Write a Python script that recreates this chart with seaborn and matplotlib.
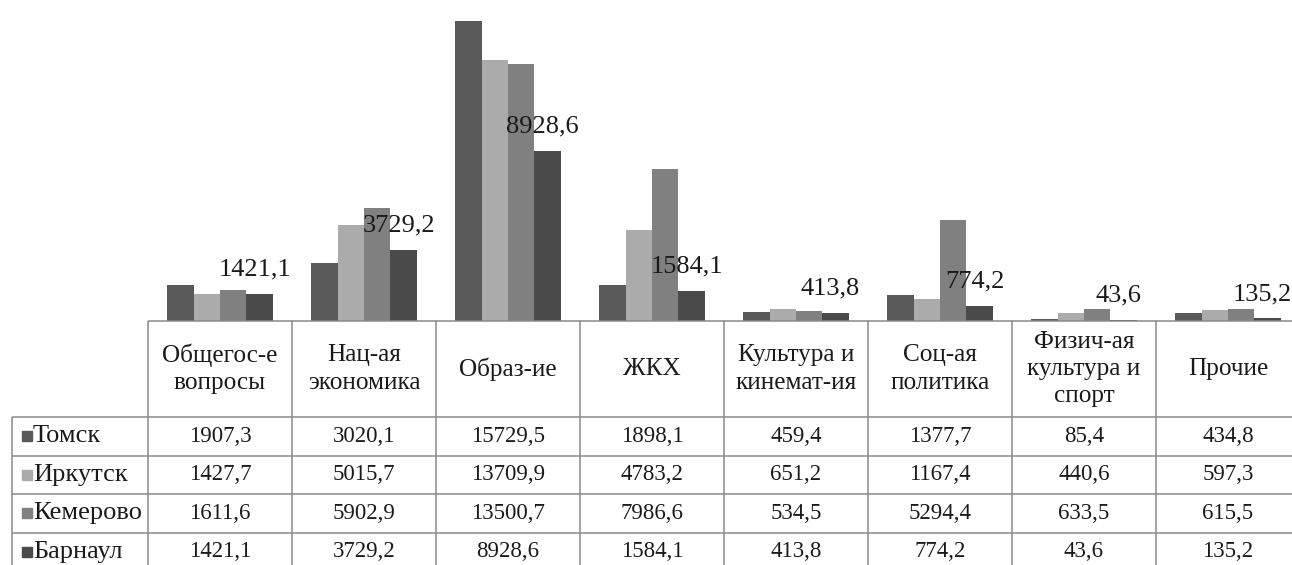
import matplotlib
matplotlib.use("Agg")
import matplotlib.pyplot as plt
from matplotlib.patches import Rectangle
import numpy as np
import pandas as pd
import seaborn as sns

# Data (expenditure by budget item, four cities)
categories = [
    "Общегос-е\nвопросы",
    "Нац-ая\nэкономика",
    "Образ-ие",
    "ЖКХ",
    "Культура и\nкинемат-ия",
    "Соц-ая\nполитика",
    "Физич-ая\nкультура и\nспорт",
    "Прочие",
]
cities = ["Томск", "Иркутск", "Кемерово", "Барнаул"]
tomsk = [1907.3, 3020.1, 15729.5, 1898.1, 459.4, 1377.7, 85.4, 434.8]
irkutsk = [1427.7, 5015.7, 13709.9, 4783.2, 651.2, 1167.4, 440.6, 597.3]
kemerovo = [1611.6, 5902.9, 13500.7, 7986.6, 534.5, 5294.4, 633.5, 615.5]
barnaul = [1421.1, 3729.2, 8928.6, 1584.1, 413.8, 774.2, 43.6, 135.2]
colors = ["#5a5a5a", "#ababab", "#808080", "#4a4a4a"]

sns.set_theme(style="white")
plt.rcParams["font.family"] = ["Liberation Serif", "DejaVu Serif"]


def fmt(v):
    return f"{v:.1f}".replace(".", ",")


series = [tomsk, irkutsk, kemerovo, barnaul]
df = pd.DataFrame(
    [(cat, city, v) for city, vals in zip(cities, series) for cat, v in zip(categories, vals)],
    columns=["cat", "city", "value"],
)

W, H = 1292, 565
fig = plt.figure(figsize=(W / 100, H / 100), dpi=100)
fig.patch.set_facecolor("white")

# layout in pixels (from top-left)
col_left = 148
col_w = 144
base_y = 321
row_edges = [321, 417, 455.5, 494, 532.5, 571]
tab_left = 12

# bar axes
ax = fig.add_axes([col_left / W, (H - base_y) / H, col_w * len(categories) / W, 305 / H])
sns.barplot(
    data=df, x="cat", y="value", hue="city", order=categories, hue_order=cities,
    palette=colors, width=0.73, saturation=1, linewidth=0, legend=False, ax=ax,
)
ax.set_xlim(-0.5, len(categories) - 0.5)
ax.set_ylim(0, 16000)
ax.axis("off")

# data labels for the last series
for patch, v in zip(ax.containers[3], barnaul):
    ax.annotate(
        fmt(v),
        (patch.get_x() + patch.get_width() / 2, patch.get_height()),
        xytext=(-3.5, 13.2), textcoords="offset points",
        ha="center", va="baseline", fontsize=19, color="#1a1a1a",
    )

# table axes in pixel units
tax = fig.add_axes([tab_left / W, (H - 571) / H, (1300 - tab_left) / W, (571 - base_y) / H])
tax.set_xlim(tab_left, 1300)
tax.set_ylim(571, base_y)
tax.axis("off")

line_kw = dict(color="#8a8a8a", lw=1.1, clip_on=False, solid_capstyle="butt")
right = col_left + col_w * len(categories)
# horizontal lines
tax.plot([col_left, right], [row_edges[0]] * 2, **line_kw)
for y in row_edges[1:-1]:
    tax.plot([tab_left, right], [y, y], **line_kw)
# vertical lines
for i in range(len(categories) + 1):
    x = col_left + col_w * i
    tax.plot([x, x], [row_edges[0], row_edges[-1]], **line_kw)
tax.plot([tab_left, tab_left], [row_edges[1], row_edges[-1]], **line_kw)

# header
for i, cat in enumerate(categories):
    cx = col_left + col_w * i + col_w / 2
    tax.text(cx, (row_edges[0] + row_edges[1]) / 2, cat, ha="center", va="center",
             fontsize=18.2, linespacing=1.3, color="#1a1a1a")

# rows
for r, (city, vals, c) in enumerate(zip(cities, series, colors)):
    cy = (row_edges[r + 1] + row_edges[r + 2]) / 2
    tax.add_patch(Rectangle((22, cy - 5), 10, 10, color=c, clip_on=False))
    tax.text(33, cy, city, ha="left", va="center", fontsize=19, color="#1a1a1a")
    for i, v in enumerate(vals):
        cx = col_left + col_w * i + col_w / 2
        tax.text(cx, cy, fmt(v), ha="center", va="center", fontsize=16.5, color="#1a1a1a")

fig.savefig("out.png", dpi=100, facecolor="white")
